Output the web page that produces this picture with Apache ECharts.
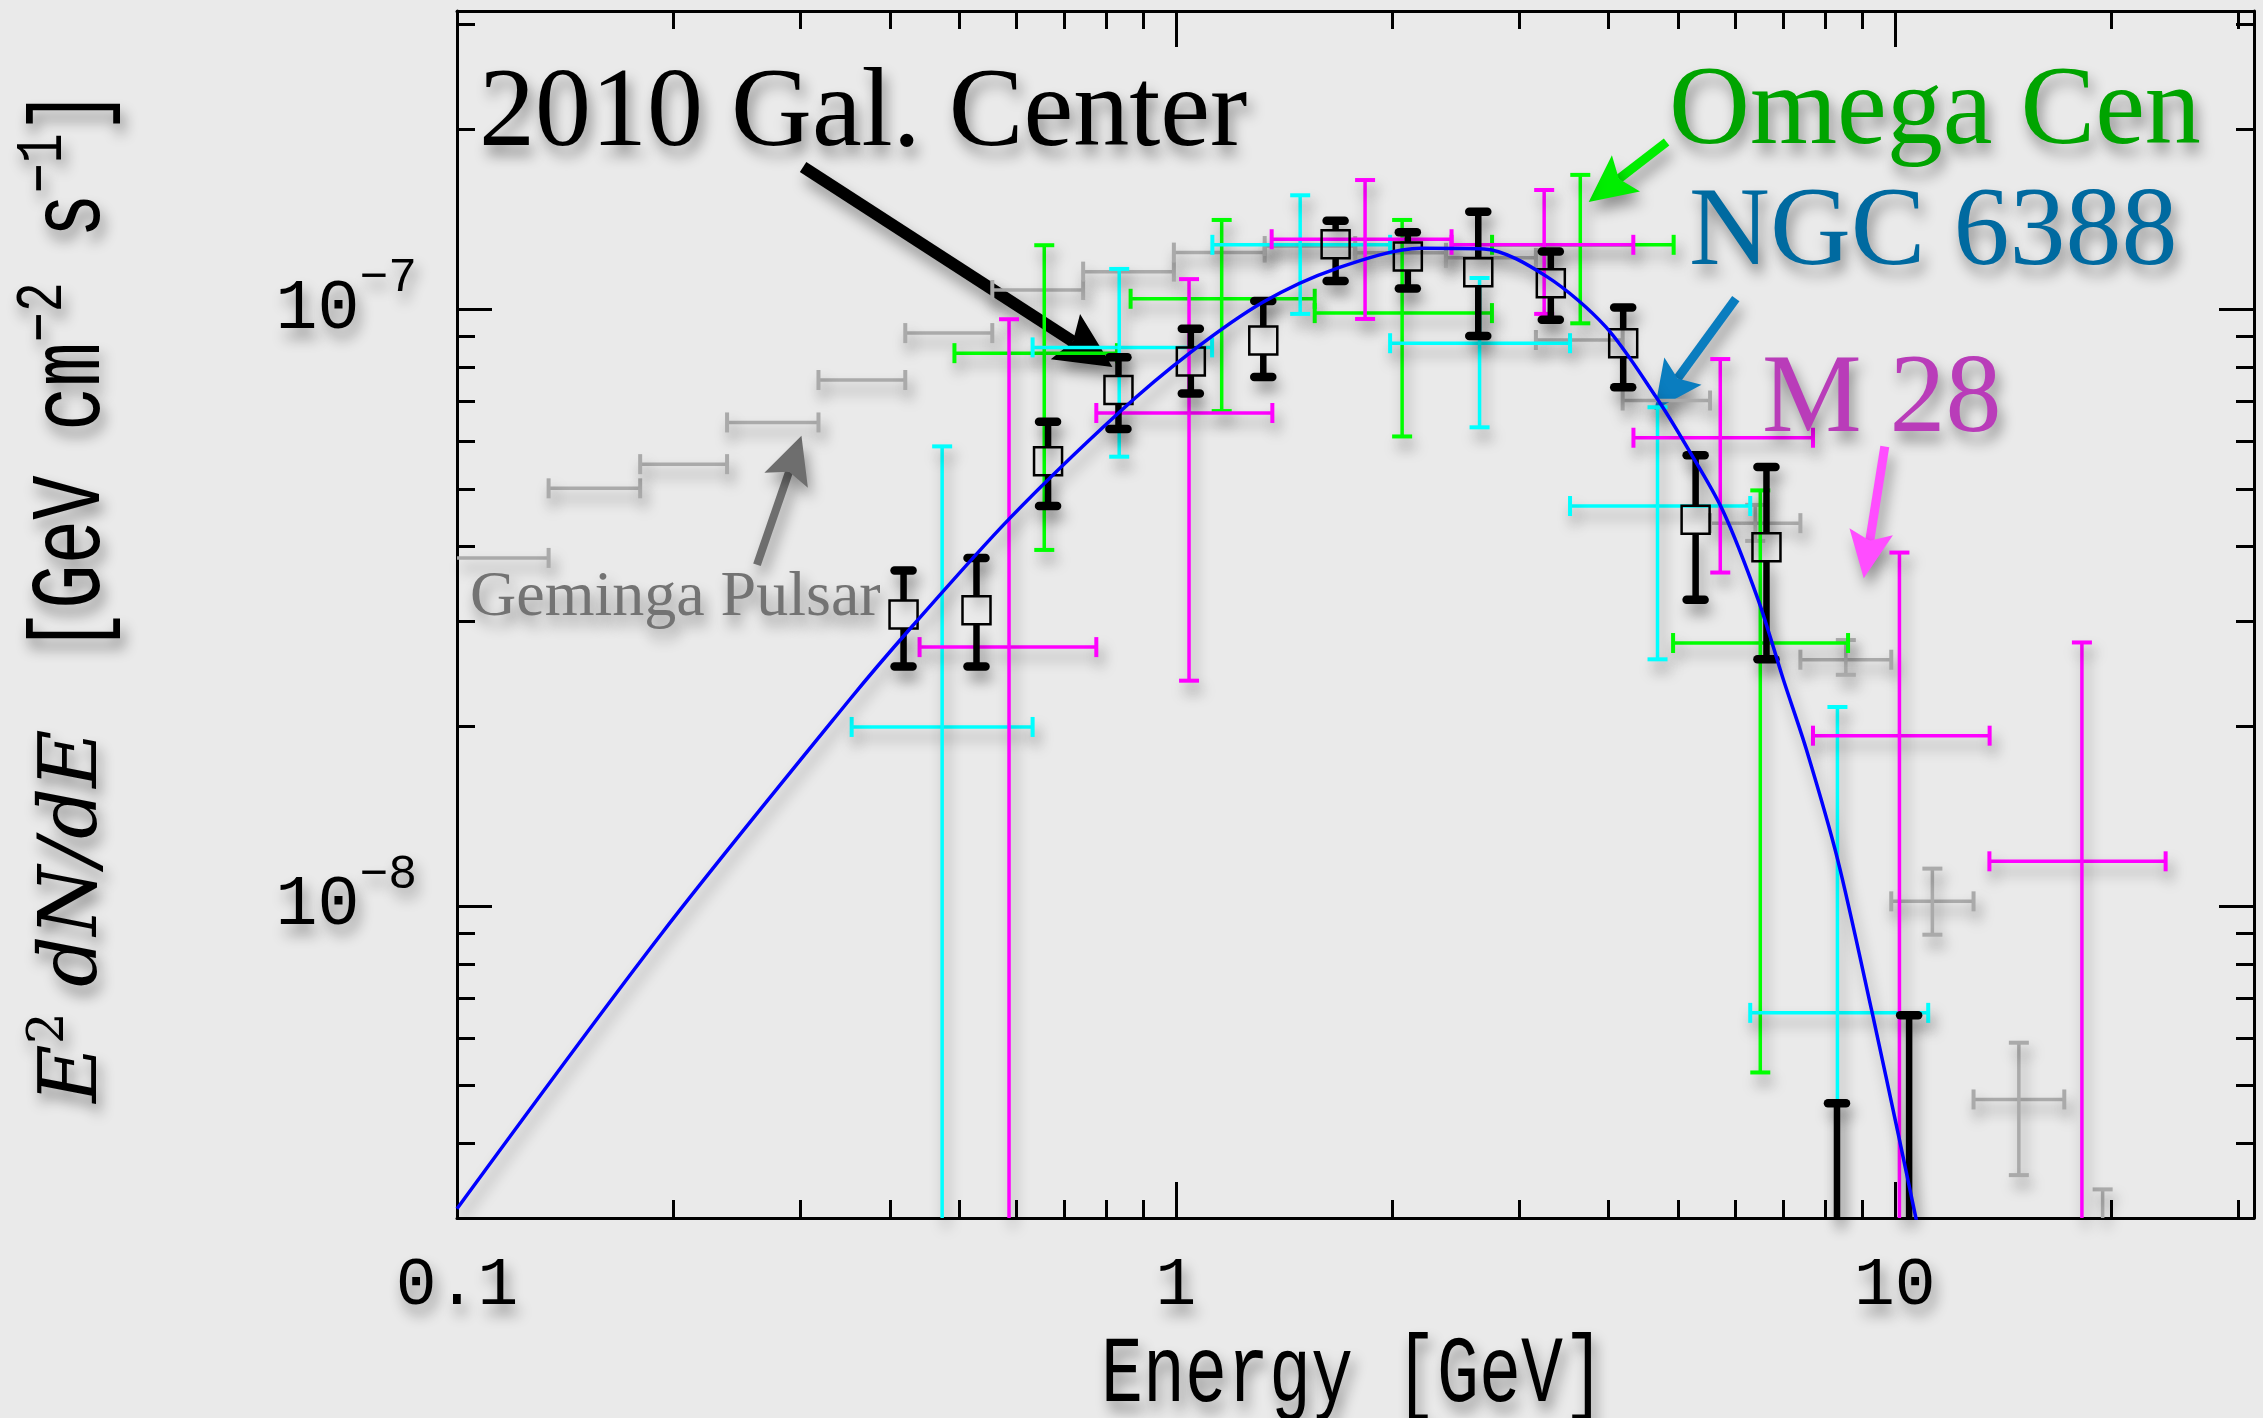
<!DOCTYPE html>
<html>
<head>
<meta charset="utf-8">
<title>E2 dN/dE spectra</title>
<script src="https://cdn.jsdelivr.net/npm/echarts@6/dist/echarts.min.js"></script>
<style>
  html, body { margin: 0; padding: 0; background: #eaeaea; }
  #chart { width: 2263px; height: 1418px; }
</style>
</head>
<body>
<div id="chart"></div>
<script>
// axis range and ticks
const xRange = [0.1, 31.6]
const yRange = [3e-9, 3.16e-7]
const xLabelTicks = [0.1, 1, 10]
const xMajorTicks = [1, 10]
const xMinorTicks = [0.2, 0.3, 0.4, 0.5, 0.6, 0.7, 0.8, 0.9, 2, 3, 4, 5, 6, 7, 8, 9, 20, 30]
const yMajorTicks = [1e-8, 1e-7]
const yMinorTicks = [4e-9, 5e-9, 6e-9, 7e-9, 8e-9, 9e-9, 2e-8, 3e-8, 4e-8, 5e-8, 6e-8, 7e-8, 8e-8, 9e-8, 2e-7, 3e-7]

// fitted spectrum (blue curve)
const curveE = [0.1, 0.193, 0.3516, 0.4292, 0.5877, 0.832, 1.046, 1.323, 1.675, 2.193, 2.682, 3.281, 3.963, 4.65, 5.134, 5.76, 6.457, 7.0, 7.536, 8.328, 9.30, 10.15, 10.75]
const curveF = [3.11e-9, 9.02e-9, 2.216e-8, 2.937e-8, 4.466e-8, 6.70e-8, 8.45e-8, 1.028e-7, 1.171e-7, 1.265e-7, 1.262e-7, 1.134e-7, 9.34e-8, 7.14e-8, 5.89e-8, 4.61e-8, 3.258e-8, 2.393e-8, 1.827e-8, 1.196e-8, 6.63e-9, 4.06e-9, 2.92e-9]

// 2010 Gal. Center: [E, F, Flo, Fhi]  (last two sit below the axis)
const galCenter = [
  [0.418, 3.08e-8, 2.52e-8, 3.65e-8],
  [0.528, 3.13e-8, 2.52e-8, 3.83e-8],
  [0.664, 5.56e-8, 4.68e-8, 6.48e-8],
  [0.832, 7.32e-8, 6.30e-8, 8.31e-8],
  [1.049, 8.17e-8, 7.22e-8, 9.27e-8],
  [1.323, 8.86e-8, 7.70e-8, 1.032e-7],
  [1.668, 1.285e-7, 1.115e-7, 1.407e-7],
  [2.102, 1.225e-7, 1.083e-7, 1.346e-7],
  [2.634, 1.153e-7, 9.02e-8, 1.456e-7],
  [3.323, 1.105e-7, 9.60e-8, 1.249e-7],
  [4.19, 8.77e-8, 7.40e-8, 1.007e-7],
  [5.284, 4.44e-8, 3.26e-8, 5.69e-8],
  [6.63, 3.99e-8, 2.59e-8, 5.44e-8],
  [8.31, 2.0e-9, 1.0e-9, 4.67e-9],
  [10.47, 2.0e-9, 1.0e-9, 6.56e-9]
]

// [E, Elo, Ehi, F, Flo, Fhi]
const omegaCen = [
  [0.656, 0.492, 0.828, 8.44e-8, 3.95e-8, 1.28e-7],
  [1.158, 0.865, 1.56, 1.041e-7, 6.75e-8, 1.411e-7],
  [2.064, 1.56, 2.752, 9.85e-8, 6.12e-8, 1.411e-7],
  [3.652, 2.753, 4.925, 1.282e-7, 9.47e-8, 1.679e-7],
  [6.5, 4.916, 8.61, 2.758e-8, 5.26e-9, 4.97e-8]
]
const ngc6388 = [
  [0.473, 0.354, 0.632, 1.995e-8, 1.0e-9, 5.89e-8],
  [0.834, 0.632, 1.123, 8.63e-8, 5.66e-8, 1.168e-7],
  [1.489, 1.124, 1.986, 1.282e-7, 9.82e-8, 1.552e-7],
  [2.645, 1.986, 3.534, 8.77e-8, 6.34e-8, 1.128e-7],
  [4.677, 3.534, 6.294, 4.68e-8, 2.59e-8, 6.85e-8],
  [8.322, 6.294, 11.13, 6.62e-9, 1.0e-9, 2.155e-8]
]
const m28 = [
  [0.586, 0.440, 0.775, 2.715e-8, 1.0e-9, 9.62e-8],
  [1.043, 0.775, 1.362, 6.70e-8, 2.385e-8, 1.123e-7],
  [1.833, 1.359, 2.418, 1.31e-7, 9.63e-8, 1.646e-7],
  [3.253, 2.418, 4.328, 1.282e-7, 9.82e-8, 1.584e-7],
  [5.718, 4.33, 7.695, 6.09e-8, 3.62e-8, 8.25e-8],
  [10.15, 7.695, 13.55, 1.929e-8, 1.0e-9, 3.91e-8],
  [18.21, 13.54, 23.81, 1.188e-8, 1.0e-9, 2.764e-8]
]
const geminga = [
  [0.1158, 0.1, 0.1341, 3.83e-8, 3.83e-8, 3.83e-8],
  [0.1553, 0.1341, 0.1798, 5.01e-8, 5.01e-8, 5.01e-8],
  [0.2066, 0.1798, 0.2375, 5.50e-8, 5.50e-8, 5.50e-8],
  [0.2749, 0.2375, 0.3183, 6.46e-8, 6.46e-8, 6.46e-8],
  [0.3658, 0.3183, 0.4203, 7.61e-8, 7.61e-8, 7.61e-8],
  [0.4832, 0.4203, 0.5554, 9.12e-8, 9.12e-8, 9.12e-8],
  [0.6424, 0.5554, 0.743, 1.077e-7, 1.077e-7, 1.077e-7],
  [0.8592, 0.743, 0.9936, 1.156e-7, 1.156e-7, 1.156e-7],
  [1.149, 0.9936, 1.329, 1.244e-7, 1.244e-7, 1.244e-7],
  [1.536, 1.329, 1.776, 1.276e-7, 1.276e-7, 1.276e-7],
  [2.054, 1.776, 2.375, 1.243e-7, 1.243e-7, 1.243e-7],
  [2.743, 2.375, 3.168, 1.219e-7, 1.219e-7, 1.219e-7],
  [3.640, 3.168, 4.183, 8.88e-8, 8.88e-8, 8.88e-8],
  [4.811, 4.183, 5.534, 7.03e-8, 7.03e-8, 7.03e-8],
  [6.395, 5.534, 7.391, 4.38e-8, 4.09e-8, 4.70e-8],
  [8.549, 7.391, 9.888, 2.586e-8, 2.44e-8, 2.79e-8],
  [11.28, 9.888, 12.87, 1.018e-8, 8.95e-9, 1.155e-8],
  [14.88, 12.87, 17.21, 4.74e-9, 3.54e-9, 5.90e-9],
  [19.46, 17.21, 22.0, 2.4e-9, 1.7e-9, 3.35e-9]
]

// annotation arrows: [from, to] in data coordinates
const arrows = [
  { from: [0.303, 1.731e-7], to: [0.816, 8.0e-8], color: '#000000', width: 12, head: 56, half: 27 },
  { from: [0.2614, 3.73e-8], to: [0.3014, 6.135e-8], color: '#6e6e6e', width: 8, head: 47, half: 23 },
  { from: [4.815, 1.906e-7], to: [3.752, 1.512e-7], color: '#00ee00', width: 9, head: 47, half: 23 },
  { from: [6.01, 1.042e-7], to: [4.634, 6.78e-8], color: '#0a7dbf', width: 9, head: 48, half: 23 },
  { from: [9.685, 5.886e-8], to: [9.054, 3.542e-8], color: '#ff4dff', width: 9, head: 47, half: 22 }
]

const labels = [
  { text: '2010 Gal. Center', x: 479, y: 116, size: 112, color: '#000000' },
  { text: 'Omega Cen', x: 1669, y: 114, size: 112, color: '#00a400' },
  { text: 'NGC 6388', x: 1689, y: 235, size: 112, color: '#006aa0' },
  { text: 'M 28', x: 1762, y: 402, size: 112, color: '#b93cb9' },
  { text: 'Geminga Pulsar', x: 470, y: 598, size: 64, color: '#737373' }
]

const MONO = '"Liberation Mono", "DejaVu Sans Mono", monospace'
const SERIF = '"Liberation Serif", "DejaVu Serif", serif'
const shadow = { shadowBlur: 14, shadowColor: 'rgba(0,0,0,0.38)', shadowOffsetX: 4, shadowOffsetY: 10 }
const textShadow = { textShadowBlur: 14, textShadowColor: 'rgba(0,0,0,0.42)', textShadowOffsetX: 4, textShadowOffsetY: 10 }

function crossItem(color) {
  return function (params, api) {
    const cs = params.coordSys
    const top = cs.y, bottom = cs.y + cs.height, left = cs.x, right = cs.x + cs.width
    const e = api.value(0), f = api.value(3), flo = api.value(4), fhi = api.value(5)
    const c = api.coord([e, f])
    const xl = api.coord([api.value(1), f])[0]
    const xr = api.coord([api.value(2), f])[0]
    const yb = api.coord([e, flo])[1]
    const yt = api.coord([e, fhi])[1]
    const kids = []
    const seg = (x1, y1, x2, y2, w) => kids.push({
      type: 'line', shape: { x1, y1, x2, y2 },
      style: Object.assign({ stroke: color, lineWidth: w || 3.5 }, shadow)
    })
    if (c[1] >= top && c[1] <= bottom) {
      seg(Math.max(xl, left), c[1], Math.min(xr, right), c[1])
      if (xl > left + 2) seg(xl, c[1] - 10, xl, c[1] + 10, 4)
      if (xr < right - 2) seg(xr, c[1] - 10, xr, c[1] + 10, 4)
    }
    if (fhi > flo) {
      const a = Math.max(yt, top), b = Math.min(yb, bottom)
      if (b > a) seg(c[0], a, c[0], b)
      if (yt >= top) seg(c[0] - 10, yt, c[0] + 10, yt, 4)
      if (yb <= bottom) seg(c[0] - 10, yb, c[0] + 10, yb, 4)
    }
    return { type: 'group', children: kids }
  }
}

function galItem(params, api) {
  const cs = params.coordSys
  const top = cs.y, bottom = cs.y + cs.height
  const e = api.value(0)
  const c = api.coord([e, api.value(1)])
  const yb = api.coord([e, api.value(2)])[1]
  const yt = api.coord([e, api.value(3)])[1]
  const half = 14
  const kids = []
  const bar = (y1, y2) => kids.push({
    type: 'line', shape: { x1: c[0], y1, x2: c[0], y2 },
    style: Object.assign({ stroke: '#000', lineWidth: 6.5 }, shadow)
  })
  const cap = y => kids.push({
    type: 'line', shape: { x1: c[0] - 9, y1: y, x2: c[0] + 9, y2: y },
    style: Object.assign({ stroke: '#000', lineWidth: 8.5, lineCap: 'round' }, shadow)
  })
  if (c[1] <= bottom) {
    bar(Math.max(yt, top), c[1] - half)
    bar(c[1] + half, Math.min(yb, bottom))
    kids.push({
      type: 'rect', shape: { x: c[0] - half, y: c[1] - half, width: 2 * half, height: 2 * half },
      style: { fill: 'transparent', stroke: '#000', lineWidth: 2.5 }
    })
  } else {
    bar(Math.max(yt, top), bottom)
  }
  if (yt >= top && yt <= bottom) cap(yt)
  if (yb <= bottom) cap(yb)
  return { type: 'group', children: kids }
}

const tickStyle = { color: '#000', width: 3 }
const hidden = { show: false }
function logAxis(extra) {
  return Object.assign({
    type: 'log', logBase: 10,
    splitLine: hidden, minorTick: hidden, minorSplitLine: hidden,
    axisLine: hidden, axisLabel: hidden, axisTick: hidden
  }, extra)
}
const frameLine = { show: true, onZero: false, lineStyle: { color: '#000', width: 3 } }
const majorX = { show: true, inside: true, length: 36, customValues: xMajorTicks, lineStyle: tickStyle }
const minorX = { show: true, inside: true, length: 18, customValues: xMinorTicks, lineStyle: tickStyle }
const majorY = { show: true, inside: true, length: 35, customValues: yMajorTicks, lineStyle: tickStyle }
const minorY = { show: true, inside: true, length: 18, customValues: yMinorTicks, lineStyle: tickStyle }

const option = {
  backgroundColor: '#eaeaea',
  animation: false,
  grid: { left: 457, right: 9, top: 11, bottom: 200, containLabel: false, outerBoundsMode: 'none' },
  xAxis: [
    logAxis({
      position: 'bottom', min: xRange[0], max: xRange[1], axisLine: frameLine, axisTick: majorX,
      axisLabel: Object.assign({
        show: true, customValues: xLabelTicks, margin: 34, color: '#000',
        fontFamily: MONO, fontSize: 68,
        formatter: v => (v < 0.5 ? '0.1' : String(Math.round(v)))
      }, textShadow)
    }),
    logAxis({ position: 'bottom', min: xRange[0], max: xRange[1], axisTick: minorX }),
    logAxis({ position: 'top', min: xRange[0], max: xRange[1], axisLine: frameLine, axisTick: majorX }),
    logAxis({ position: 'top', min: xRange[0], max: xRange[1], axisTick: minorX })
  ],
  yAxis: [
    logAxis({
      position: 'left', min: yRange[0], max: yRange[1], axisLine: frameLine, axisTick: majorY,
      axisLabel: {
        show: true, customValues: yMajorTicks, margin: 40, color: '#000',
        formatter: v => '{b|10}{s|\u2212' + (-Math.round(Math.log10(v))) + '}',
        rich: {
          b: Object.assign({ fontFamily: MONO, fontSize: 70, lineHeight: 110, color: '#000' }, textShadow),
          s: Object.assign({ fontFamily: MONO, fontSize: 48, lineHeight: 48, verticalAlign: 'top', color: '#000' }, textShadow)
        }
      }
    }),
    logAxis({ position: 'left', min: yRange[0], max: yRange[1], axisTick: minorY }),
    logAxis({ position: 'right', min: yRange[0], max: yRange[1], axisLine: frameLine, axisTick: majorY }),
    logAxis({ position: 'right', min: yRange[0], max: yRange[1], axisTick: minorY })
  ],
  series: [
    { name: 'Geminga Pulsar', type: 'custom', renderItem: crossItem('#aaaaaa'), data: geminga, encode: { x: 0, y: 3 }, silent: true },
    { name: 'Omega Cen', type: 'custom', renderItem: crossItem('#00ff00'), data: omegaCen, encode: { x: 0, y: 3 }, silent: true },
    { name: 'NGC 6388', type: 'custom', renderItem: crossItem('#00ffff'), data: ngc6388, encode: { x: 0, y: 3 }, silent: true },
    { name: 'M 28', type: 'custom', renderItem: crossItem('#ff00ff'), data: m28, encode: { x: 0, y: 3 }, silent: true },
    {
      name: 'fit', type: 'line', data: curveE.map((e, i) => [e, curveF[i]]),
      symbol: 'none', smooth: 0.3, clip: true, silent: true,
      lineStyle: Object.assign({ color: '#0000ff', width: 3.5 }, shadow)
    },
    { name: '2010 Gal. Center', type: 'custom', renderItem: galItem, data: galCenter, encode: { x: 0, y: 1 }, silent: true }
  ]
}

const chart = echarts.init(document.getElementById('chart'), null, { renderer: 'canvas' })
chart.setOption(option)

const toPx = p => chart.convertToPixel({ seriesIndex: 4 }, p)

function arrowShape(a) {
  const p = toPx(a.from), q = toPx(a.to)
  const dx = q[0] - p[0], dy = q[1] - p[1], len = Math.hypot(dx, dy)
  const ux = dx / len, uy = dy / len, nx = -uy, ny = ux
  const hl = a.head, hw = a.half, notch = 9
  const bx = q[0] - ux * hl, by = q[1] - uy * hl
  return {
    type: 'group', z: 100, silent: true,
    children: [
      {
        type: 'line', shape: { x1: p[0], y1: p[1], x2: bx + ux * notch, y2: by + uy * notch },
        style: Object.assign({ stroke: a.color, lineWidth: a.width }, shadow)
      },
      {
        type: 'polygon',
        shape: { points: [q, [bx + nx * hw, by + ny * hw], [bx + ux * notch, by + uy * notch], [bx - nx * hw, by - ny * hw]] },
        style: Object.assign({ fill: a.color }, shadow)
      }
    ]
  }
}

const textEls = labels.map(l => ({
  type: 'text', x: l.x, y: l.y, z: 100, silent: true,
  style: Object.assign({
    text: l.text, fill: l.color, font: l.size + 'px ' + SERIF,
    align: 'left', verticalAlign: 'middle'
  }, textShadow, shadow)
}))

// axis titles
const axisTitles = [
  {
    type: 'text', x: 1353, y: 1376, scaleY: 1.35, z: 100, silent: true,
    style: Object.assign({
      text: 'Energy [GeV]', fill: '#000', font: '70px ' + MONO,
      align: 'center', verticalAlign: 'middle'
    }, textShadow, shadow)
  },
  {
    type: 'text', x: 75, y: 916, rotation: Math.PI / 2, z: 100, silent: true,
    style: Object.assign({
      text: '{it|E}{s|2} {it|dN/dE}', fill: '#000', font: '80px "DejaVu Serif", serif',
      lineHeight: 100, align: 'center', verticalAlign: 'middle',
      rich: {
        it: { font: 'italic 80px "DejaVu Serif", serif', lineHeight: 100 },
        s: { font: '50px "DejaVu Serif", serif', lineHeight: 50, verticalAlign: 'top' }
      }
    }, textShadow, shadow)
  },
  {
    type: 'text', x: 73, y: 371, rotation: Math.PI / 2, scaleY: 1.35, z: 100, silent: true,
    style: Object.assign({
      text: '[GeV cm{s|\u22122} s{s|\u22121}]', fill: '#000', font: '74px ' + MONO,
      lineHeight: 94, align: 'center', verticalAlign: 'middle',
      rich: {
        s: { font: '50px ' + MONO, lineHeight: 40, verticalAlign: 'top' }
      }
    }, textShadow, shadow)
  }
]

chart.setOption({ graphic: arrows.map(arrowShape).concat(textEls, axisTitles) })
</script>
</body>
</html>
